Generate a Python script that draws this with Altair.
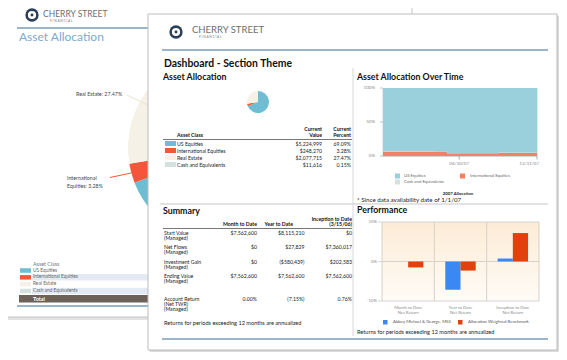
import altair as alt
import pandas as pd

# ------------------------------------------------------------------ data
asset_classes = ["US Equities", "International Equities", "Real Estate", "Cash and Equivalents"]
asset_values = [5224999, 248270, 2077715, 11616]
asset_percents = [69.09, 3.28, 27.47, 0.15]

area_dates = ["2007/01/01", "2007/02/01", "2007/03/01", "2007/04/01", "2007/05/01", "2007/06/01",
              "2007/07/01", "2007/08/01", "2007/09/01", "2007/10/01", "2007/11/01", "2007/12/01",
              "2007/12/31"]
area_us = [93.4, 93.4, 93.5, 93.5, 93.6, 95.7, 95.8, 95.9, 95.8, 94.9, 94.9, 95.0, 95.0]
area_intl = [6.4, 6.4, 6.3, 6.3, 6.2, 4.1, 4.0, 3.9, 4.0, 4.9, 4.9, 4.8, 4.8]
area_cash = [0.2, 0.2, 0.2, 0.2, 0.2, 0.2, 0.2, 0.2, 0.2, 0.2, 0.2, 0.2, 0.2]
area_ticks = [0, 0.5, 1]
area_tick_labels = ["0%", "50%", "100%"]
area_date_ticks = ["2007/06/30", "2007/12/31"]

summary_rows = ["Start Value", "Net Flows", "Investment Gain", "Ending Value"]
summary_columns = ["Month to Date", "Year to Date", "Inception to Date"]
summary_mtd = [7562600, 0, 0, 7562600]
summary_ytd = [8115210, 27829, -580439, 7562600]
summary_itd = [0, 7360017, 202583, 7562600]
account_return = [0.00, -7.15, 0.76]

perf_periods = ["Month to Date", "Year to Date", "Inception to Date"]
perf_series = ["Abbey Michael & George, MSS", "Allocation Weighted Benchmark"]
perf_portfolio = [0.00, -7.15, 0.76]
perf_benchmark = [-1.5, -2.3, 7.2]
perf_ticks = [-10, 0, 10]
perf_tick_labels = ["-10%", "0%", "10%"]

# ------------------------------------------------------------------ styles
ASSET_COLORS = ["#6dbdd3", "#f2573a", "#f6f1e6", "#d3e2de"]
AREA_COLORS = ["#9acfdc", "#f47e66", "#d3e2de"]
PERF_COLORS = ["#3b88f5", "#e1410b"]
NAVY = "#2a3f57"
RULE_BLUE = "#7b9cb9"
FONT = "Lato"
OX, OY = 8, 8


def X(v):
    return v - OX


def Y(v):
    return v - OY


one = pd.DataFrame({"k": [0]})


def label(s, x, y, size=5.3, color="#333333", weight="normal", align="left"):
    return alt.Chart(one).mark_text(
        text=s, font=FONT, fontSize=size, color=color, fontWeight=weight,
        align=align, baseline="middle"
    ).encode(x=alt.value(X(x)), y=alt.value(Y(y)))


def box(x1, y1, x2, y2, fill, stroke=None, sw=1.0):
    kw = {}
    if stroke is not None:
        kw = dict(stroke=stroke, strokeWidth=sw)
    return alt.Chart(one).mark_rect(fill=fill, **kw).encode(
        x=alt.value(X(x1)), x2=alt.value(X(x2)), y=alt.value(Y(y1)), y2=alt.value(Y(y2)))


def seg(x1, y1, x2, y2, color, w=1.0):
    return alt.Chart(one).mark_rule(color=color, strokeWidth=w).encode(
        x=alt.value(X(x1)), y=alt.value(Y(y1)), x2=alt.value(X(x2)), y2=alt.value(Y(y2)))


def dot(x, y, r, color):
    return alt.Chart(one).mark_circle(color=color, size=3.14159 * r * r, opacity=1).encode(
        x=alt.value(X(x)), y=alt.value(Y(y)))


def logo(cx, cy, r, tx, ty, size):
    return [
        dot(cx, cy, r, NAVY),
        dot(cx, cy, r * 0.62, "white"),
        dot(cx, cy, r * 0.22, NAVY),
        label("CHERRY STREET", tx, ty, size=size, color="#6e6e6e"),
        label("F  I  N  A  N  C  I  A  L", tx + 7, ty + 6.5, size=3.2, color="#777777"),
    ]


asset_df = pd.DataFrame({"cls": asset_classes, "value": asset_values,
                         "pct": asset_percents, "idx": list(range(len(asset_classes)))})
asset_color = alt.Scale(domain=asset_classes, range=ASSET_COLORS)


def pie(cx, cy, r):
    return alt.Chart(asset_df).mark_arc(radius=r).encode(
        theta=alt.Theta("pct:Q", stack=True),
        order=alt.Order("idx:Q"),
        color=alt.Color("cls:N", scale=asset_color, legend=None),
        x=alt.value(X(cx)), y=alt.value(Y(cy)))


L = []

# ================================================================ back page
L += [box(-10, 2, 150, 320, "#e2e2e2"),
      box(-10, -10, 412, 317, "white", stroke="#c4c4c4")]
L += logo(32, 15, 7.5, 43, 14, 8.5)
L += [seg(17, 28, 150, 28, RULE_BLUE, 1.5),
      label("Asset Allocation", 19, 37, size=12, color="#80a9cf")]
L += [pie(224, 148, 96)]
L += [seg(127, 95, 150, 106, "#ece3d0", 1),
      label("Real Estate: 27.47%", 76, 94, size=5.3, color="#444444"),
      seg(110, 177.5, 131, 173, "#f2573a", 1),
      label("International", 67, 178, size=5.3, color="#444444"),
      label("Equities: 3.28%", 67, 186, size=5.3, color="#444444")]

back_rows = alt.Scale(domain=asset_classes, range=[Y(270.5), Y(291)], type="point", padding=0)
back_legend = alt.layer(
    alt.Chart(asset_df).transform_filter("datum.idx % 2 == 1").mark_tick(
        orient="horizontal", size=116, thickness=6.5, color="#e3eaf4", opacity=1
    ).encode(x=alt.value(X(90)), y=alt.Y("cls:N", scale=back_rows, axis=None)),
    alt.Chart(asset_df).mark_tick(orient="horizontal", size=11, thickness=4.5, opacity=1).encode(
        x=alt.value(X(25.5)), y=alt.Y("cls:N", scale=back_rows, axis=None),
        color=alt.Color("cls:N", scale=asset_color, legend=None)),
    alt.Chart(asset_df).mark_text(align="left", baseline="middle", font=FONT, fontSize=4.8,
                                  color="#666666").encode(
        x=alt.value(X(33)), y=alt.Y("cls:N", scale=back_rows, axis=None), text="cls:N"),
)
L += [label("Asset Class", 33, 263.5, size=5.3, color="#777777"), back_legend,
      box(19, 295, 150, 302.5, "#6d6158"),
      label("Total", 33, 299, size=5.5, color="white", weight="bold"),
      seg(17, 306, 150, 306, RULE_BLUE, 1.5)]

# ================================================================ front page
L += [box(150, 16, 560, 353, "#e6e6e6"), box(149.5, 15.5, 558.5, 351.5, "#d2d2d2"),
      box(148, 14, 557, 350, "white", stroke="#bdbdbd")]
L += logo(176, 32, 7.5, 192, 30, 9.5)
L += [seg(162, 50, 548, 50, RULE_BLUE, 1.5),
      label("Dashboard - Section Theme", 164, 64, size=10.4, color="#111111", weight="bold"),
      label("Asset Allocation", 163, 77, size=8.8, color="#111111", weight="bold"),
      label("Asset Allocation Over Time", 357, 77, size=8.8, color="#111111", weight="bold"),
      label("Summary", 163, 211, size=8.8, color="#111111", weight="bold"),
      label("Performance", 357, 210, size=8.8, color="#111111", weight="bold"),
      seg(353, 68, 353, 336, "#d6d6d6", 1),
      seg(160, 204, 548, 204, "#d9d9d9", 1.5)]

# ---- small pie + allocation table
L += [pie(258, 102, 11)]
front_rows = alt.Scale(domain=asset_classes, range=[Y(143.5), Y(164.5)], type="point", padding=0)
front_table = alt.layer(
    alt.Chart(asset_df).mark_tick(orient="horizontal", size=11, thickness=5, opacity=1).encode(
        x=alt.value(X(170.5)), y=alt.Y("cls:N", scale=front_rows, axis=None),
        color=alt.Color("cls:N", scale=asset_color, legend=None)),
    alt.Chart(asset_df).mark_text(align="left", baseline="middle", font=FONT, fontSize=5.2,
                                  color="#222222").encode(
        x=alt.value(X(177)), y=alt.Y("cls:N", scale=front_rows, axis=None), text="cls:N"),
    alt.Chart(asset_df).mark_text(align="right", baseline="middle", font=FONT, fontSize=5.2,
                                  color="#222222").encode(
        x=alt.value(X(322)), y=alt.Y("cls:N", scale=front_rows, axis=None),
        text=alt.Text("value:Q", format="$,.0f")),
    alt.Chart(asset_df).transform_calculate(frac="datum.pct / 100").mark_text(
        align="right", baseline="middle", font=FONT, fontSize=5.2, color="#222222").encode(
        x=alt.value(X(351)), y=alt.Y("cls:N", scale=front_rows, axis=None),
        text=alt.Text("frac:Q", format=".2%")),
)
L += [label("Asset Class", 177, 135, size=5.2, color="#111111", weight="bold"),
      label("Current", 322, 129, size=5.2, color="#111111", weight="bold", align="right"),
      label("Value", 322, 135, size=5.2, color="#111111", weight="bold", align="right"),
      label("Current", 351, 129, size=5.2, color="#111111", weight="bold", align="right"),
      label("Percent", 351, 135, size=5.2, color="#111111", weight="bold", align="right"),
      seg(163, 139.5, 352, 139.5, "#777777", 1),
      front_table]

# ---- asset allocation over time (stacked area)
area_df = pd.concat([
    pd.DataFrame({"date": area_dates, "cls": "International Equities", "share": area_intl, "ord": 0}),
    pd.DataFrame({"date": area_dates, "cls": "Cash and Equivalents", "share": area_cash, "ord": 1}),
    pd.DataFrame({"date": area_dates, "cls": "US Equities", "share": area_us, "ord": 2}),
], ignore_index=True)
ax = alt.Scale(domain=[alt.DateTime(year=2007, month=1, date=1),
                       alt.DateTime(year=2007, month=12, date=31)],
               range=[X(383), X(537)])
ay = alt.Scale(domain=[0, 1], range=[Y(156), Y(88)])
area_layer = alt.layer(
    alt.Chart(area_df).mark_area(opacity=1, interpolate="step-after").encode(
        x=alt.X("date:T", scale=ax, axis=None),
        y=alt.Y("share:Q", stack="normalize", scale=ay, axis=None),
        color=alt.Color("cls:N", scale=alt.Scale(
            domain=["US Equities", "International Equities", "Cash and Equivalents"],
            range=AREA_COLORS), legend=None),
        order=alt.Order("ord:Q")),
    alt.Chart(pd.DataFrame({"v": area_ticks, "t": area_tick_labels})).mark_rule(
        color="#b5b5b5", strokeWidth=0.8).encode(
        x=alt.value(X(380)), x2=alt.value(X(383)), y=alt.Y("v:Q", scale=ay, axis=None)),
    alt.Chart(pd.DataFrame({"v": area_ticks, "t": area_tick_labels})).mark_text(
        align="right", baseline="middle", font=FONT, fontSize=4.5, color="#8a8a8a").encode(
        x=alt.value(X(375)), y=alt.Y("v:Q", scale=ay, axis=None), text="t:N"),
    alt.Chart(pd.DataFrame({"d": area_date_ticks})).mark_rule(color="#999999", strokeWidth=0.8).encode(
        x=alt.X("d:T", scale=ax, axis=None), y=alt.value(Y(156)), y2=alt.value(Y(159.5))),
    alt.Chart(pd.DataFrame({"d": area_date_ticks[:1]})).mark_text(
        align="center", baseline="middle", font=FONT, fontSize=4.5, color="#8a8a8a").encode(
        x=alt.X("d:T", scale=ax, axis=None), y=alt.value(Y(164)),
        text=alt.Text("d:T", format="%m/%d/%y")),
    alt.Chart(pd.DataFrame({"d": area_date_ticks[1:]})).mark_text(
        align="right", baseline="middle", font=FONT, fontSize=4.5, color="#8a8a8a", dx=2).encode(
        x=alt.X("d:T", scale=ax, axis=None), y=alt.value(Y(164)),
        text=alt.Text("d:T", format="%m/%d/%y")),
)
L += [seg(383, 88, 383, 156, "#c9dbe2", 1), seg(537, 88, 537, 156, "#c9c9c9", 1),
      area_layer,
      seg(383, 156, 537, 156, "#a8a8a8", 1),
      box(395, 173.5, 400, 178.5, AREA_COLORS[0]),
      label("US Equities", 404, 176, size=4.3, color="#666666"),
      box(460, 173.5, 465, 178.5, AREA_COLORS[1]),
      label("International Equities", 470, 176, size=4.3, color="#666666"),
      box(395, 179.5, 400, 184.5, AREA_COLORS[2]),
      label("Cash and Equivalents", 404, 182, size=4.3, color="#666666"),
      label("2007 Allocation", 458, 194, size=4.3, color="#222222", weight="bold", align="center"),
      label("* Since data availability date of 1/1/07", 357, 200, size=6.2, color="#222222")]

# ---- summary table
sum_df = pd.concat([
    pd.DataFrame({"row": summary_rows, "col": summary_columns[0], "v": summary_mtd}),
    pd.DataFrame({"row": summary_rows, "col": summary_columns[1], "v": summary_ytd}),
    pd.DataFrame({"row": summary_rows, "col": summary_columns[2], "v": summary_itd}),
], ignore_index=True)
ret_df = pd.DataFrame({"col": summary_columns, "v": account_return})
sx = alt.Scale(domain=summary_columns, range=[X(257), X(352)], type="point", padding=0)
sy = alt.Scale(domain=summary_rows, range=[Y(233), Y(276)], type="point", padding=0)
summary_layer = alt.layer(
    alt.Chart(pd.DataFrame({"row": summary_rows})).mark_text(
        align="left", baseline="middle", font=FONT, fontSize=5.2, color="#222222").encode(
        x=alt.value(X(164)), y=alt.Y("row:N", scale=sy, axis=None), text="row:N"),
    alt.Chart(pd.DataFrame({"row": summary_rows})).mark_text(
        text="(Managed)", align="left", baseline="middle", font=FONT, fontSize=5.2,
        color="#222222", dy=5).encode(
        x=alt.value(X(164)), y=alt.Y("row:N", scale=sy, axis=None)),
    alt.Chart(sum_df).mark_text(align="right", baseline="middle", font=FONT, fontSize=5.2,
                                color="#222222").encode(
        x=alt.X("col:N", scale=sx, axis=None), y=alt.Y("row:N", scale=sy, axis=None),
        text=alt.Text("v:Q", format="($,.0f")),
    alt.Chart(ret_df).transform_calculate(f="datum.v / 100").mark_text(
        align="right", baseline="middle", font=FONT, fontSize=5.2, color="#222222").encode(
        x=alt.X("col:N", scale=sx, axis=None), y=alt.value(Y(299)),
        text=alt.Text("f:Q", format="(.2%")),
)
L += [label("Month to Date", 257, 224, size=5.2, color="#111111", weight="bold", align="right"),
      label("Year to Date", 293, 224, size=5.2, color="#111111", weight="bold", align="right"),
      label("Inception to Date", 352, 219, size=5.2, color="#111111", weight="bold", align="right"),
      label("(3/15/06)", 352, 224, size=5.2, color="#111111", weight="bold", align="right"),
      seg(163, 228.5, 352, 228.5, "#777777", 1),
      summary_layer,
      label("Account Return", 164, 299, size=5.2, color="#222222"),
      label("(Net TWR)", 164, 304, size=5.2, color="#222222"),
      label("(Managed)", 164, 309, size=5.2, color="#222222"),
      label("Returns for periods exceeding 12 months are annualized", 164, 323, size=5.6,
            color="#222222")]

# ---- performance bars
perf_df = pd.concat([
    pd.DataFrame({"period": perf_periods, "series": perf_series[0], "ret": perf_portfolio}),
    pd.DataFrame({"period": perf_periods, "series": perf_series[1], "ret": perf_benchmark}),
], ignore_index=True)
px_scale = alt.Scale(domain=perf_periods, range=[X(382), X(539)], paddingInner=0, paddingOuter=0)
py_scale = alt.Scale(domain=[-10, 10], range=[Y(301), Y(222)])
grad = alt.Gradient(gradient="linear",
                    stops=[alt.GradientStop(color="#fcecd6", offset=0),
                           alt.GradientStop(color="#fffbf6", offset=1)],
                    x1=0, x2=0, y1=0, y2=1)
pdf_periods = pd.DataFrame({"period": perf_periods})
tick_df = pd.DataFrame({"v": perf_ticks, "t": perf_tick_labels})
perf_layer = alt.layer(
    box(382, 222, 539, 301, grad),
    alt.Chart(tick_df).mark_rule(color="#c9c9c9", strokeWidth=0.8).encode(
        x=alt.value(X(378)), x2=alt.value(X(539)), y=alt.Y("v:Q", scale=py_scale, axis=None)),
    alt.Chart(pdf_periods).mark_rule(color="#d9d0c6", strokeWidth=1).encode(
        x=alt.X("period:N", scale=px_scale, bandPosition=0, axis=None),
        y=alt.value(Y(222)), y2=alt.value(Y(301))),
    alt.Chart(perf_df).mark_bar(opacity=1).encode(
        x=alt.X("period:N", scale=px_scale, axis=None),
        xOffset=alt.XOffset("series:N", scale=alt.Scale(domain=perf_series, paddingOuter=0.72,
                                                        paddingInner=0)),
        y=alt.Y("ret:Q", scale=py_scale, stack=None, axis=None),
        color=alt.Color("series:N", scale=alt.Scale(domain=perf_series, range=PERF_COLORS),
                        legend=None)),
    alt.Chart(tick_df).mark_text(align="right", baseline="middle", font=FONT, fontSize=4.3,
                                 color="#8a8a8a").encode(
        x=alt.value(X(377)), y=alt.Y("v:Q", scale=py_scale, axis=None), text="t:N"),
    alt.Chart(pdf_periods).mark_text(align="center", baseline="middle", font=FONT, fontSize=4.3,
                                     color="#8a8a8a").encode(
        x=alt.X("period:N", scale=px_scale, axis=None), y=alt.value(Y(308)), text="period:N"),
    alt.Chart(pdf_periods).mark_text(text="Net Return", align="center", baseline="middle",
                                     font=FONT, fontSize=4.3, color="#8a8a8a").encode(
        x=alt.X("period:N", scale=px_scale, axis=None), y=alt.value(Y(313))),
)
L += [perf_layer,
      seg(539, 222, 539, 301, "#d9d0c6", 1),
      box(383, 320, 387.5, 324.5, PERF_COLORS[0]),
      label(perf_series[0], 393, 322.3, size=4.3, color="#555555"),
      box(458, 320, 462.5, 324.5, PERF_COLORS[1]),
      label(perf_series[1], 468, 322.3, size=4.3, color="#555555"),
      label("Returns for periods exceeding 12 months are annualized", 357, 332, size=5.6,
            color="#222222"),
      seg(162, 339, 548, 339, RULE_BLUE, 1.5)]

chart = alt.layer(*L).resolve_scale(
    x="independent", y="independent", color="independent", theta="independent"
).properties(
    width=551, height=344, padding=0, background="white",
    autosize=alt.AutoSizeParams(type="none"),
).configure_view(stroke=None)

chart.save("out.html", embed_options={"renderer": "svg", "actions": False})
